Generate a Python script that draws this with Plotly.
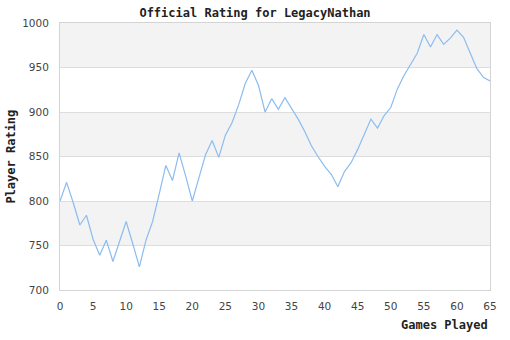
import plotly.graph_objects as go

games = list(range(66))
ratings = [800, 821, 798, 773, 784, 757, 739, 756, 732, 754, 777, 752, 726, 756, 777, 808,
           840, 823, 854, 828, 800, 826, 852, 868, 849, 874, 888, 908, 932, 947, 930, 900,
           915, 903, 916, 904, 892, 878, 862, 850, 839, 830, 816, 833, 843, 858, 876, 892,
           882, 896, 905, 926, 941, 954, 966, 987, 973, 987, 976, 983, 992, 984, 967, 949,
           939, 935]
band_starts = [950, 850, 750]
x_ticks = list(range(0, 66, 5))
y_ticks = list(range(700, 1001, 50))

fig = go.Figure()
fig.add_trace(go.Scatter(x=games, y=ratings, mode="lines",
                         line=dict(color="#8bbcef", width=1.2), hoverinfo="skip"))

for b in band_starts:
    fig.add_shape(type="rect", xref="paper", yref="y", x0=0, x1=1, y0=b, y1=b + 50,
                  fillcolor="#f3f3f3", line=dict(width=0), layer="below")

mono = "DejaVu Sans Mono"
title_font = dict(family=mono, size=12, color="#222")
tick_font = dict(family="DejaVu Sans", size=10.5, color="#444")
fig.update_layout(
    width=510, height=340,
    margin=dict(l=60, r=20, t=23, b=50, autoexpand=False),
    paper_bgcolor="white", plot_bgcolor="white",
    showlegend=False,
    title=dict(text="<b>Official Rating for LegacyNathan</b>", x=0.5, xanchor="center",
               y=0.963, yanchor="middle", font=title_font),
    xaxis=dict(range=[0, 65], tickvals=x_ticks, showgrid=False, zeroline=False,
               showline=True, linecolor="#d4d4d4", mirror=True, ticks="", automargin=False,
               tickfont=tick_font, ticklabelstandoff=6),
    yaxis=dict(range=[700, 1000], tickvals=y_ticks, showgrid=True, gridcolor="#dddddd",
               zeroline=False, showline=True, linecolor="#d4d4d4", mirror=True, ticks="",
               automargin=False, tickfont=tick_font, ticklabelstandoff=8),
    annotations=[
        dict(text="<b>Games Played</b>", xref="paper", yref="paper", x=1, y=-0.13,
             xanchor="right", yanchor="middle", showarrow=False, font=title_font),
        dict(text="<b>Player Rating</b>", xref="paper", yref="paper", x=-0.116, y=0.5,
             xanchor="center", yanchor="middle", textangle=-90, showarrow=False,
             font=title_font),
    ],
)

fig.write_html("out.html")
